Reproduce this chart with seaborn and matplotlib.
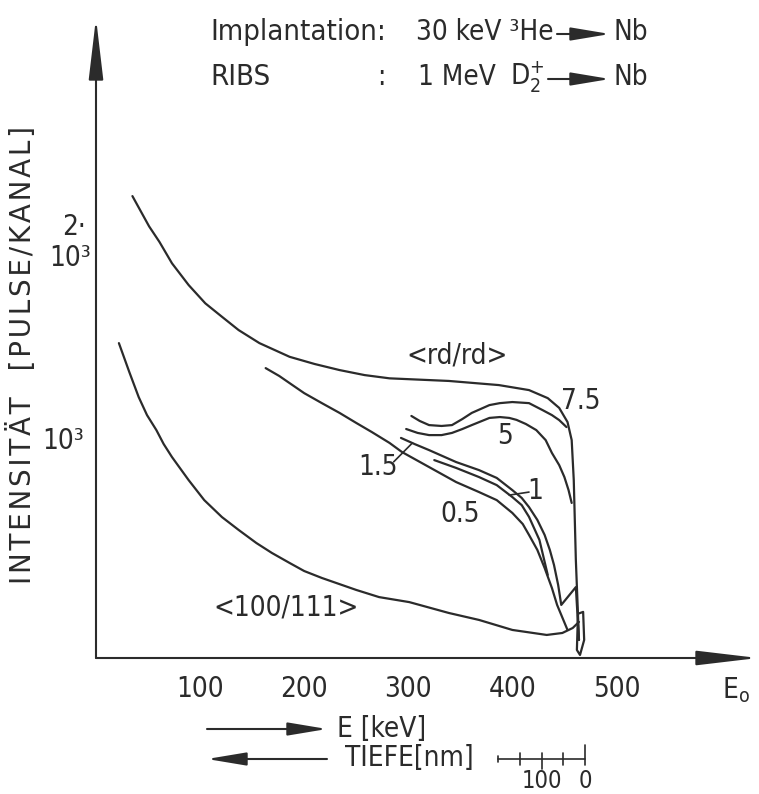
import matplotlib
matplotlib.use("Agg")
import matplotlib.pyplot as plt
import seaborn as sns
from matplotlib.lines import Line2D

W, H = 759, 794
INK = "#2b2b2b"
s = 20

# energy axis [keV] and intensity [pulse/kanal]
e_ticks = [100, 200, 300, 400, 500]
i_ticks = [1000, 2000]

rdrd_e = [35, 51, 61, 73, 89, 105, 120, 137, 157, 186, 210, 234, 258, 282, 339, 387, 416, 434,
          445, 453, 457, 459, 461, 464]
rdrd_i = [2124, 1985, 1913, 1815, 1715, 1631, 1573, 1508, 1448, 1385, 1352, 1324, 1301, 1286,
          1274, 1255, 1232, 1195, 1150, 1085, 1002, 818, 451, 83]

d75_e = [303, 311, 320, 332, 342, 352, 361, 378, 388, 400, 416, 429, 438, 445, 452]
d75_i = [1113, 1090, 1071, 1067, 1071, 1099, 1127, 1163, 1172, 1177, 1172, 1140, 1117, 1094, 1062]

d5_e = [298, 309, 320, 332, 342, 352, 361, 378, 388, 397, 404, 413, 423, 432, 438, 445, 450, 454, 457]
d5_i = [1053, 1035, 1025, 1025, 1035, 1053, 1071, 1104, 1108, 1104, 1095, 1076, 1048, 1002, 943,
        887, 832, 772, 713]

d15_e = [293, 306, 320, 346, 368, 385, 400, 409, 416, 424, 431, 436, 440, 444, 447, 461, 464]
d15_i = [1012, 984, 956, 901, 864, 828, 772, 736, 694, 635, 566, 497, 428, 336, 244, 326, 83]

d1_e = [325, 346, 368, 385, 400, 409, 416, 426, 434]
d1_i = [910, 874, 832, 795, 740, 703, 649, 543, 382]

d05_e = [163, 176, 186, 200, 217, 234, 250, 265, 282, 294, 320, 346, 368, 385, 400, 410, 416, 424,
         431, 438, 443, 453]
d05_i = [1333, 1297, 1264, 1218, 1172, 1127, 1081, 1039, 989, 947, 878, 809, 763, 726, 667, 616,
         566, 497, 414, 322, 244, 129]

al_e = [22, 32, 41, 49, 58, 65, 73, 89, 104, 121, 137, 154, 169, 186, 200, 217, 250, 272, 301,
        339, 368, 400, 433, 448, 458, 464]
al_i = [1448, 1315, 1200, 1117, 1048, 984, 924, 818, 726, 648, 589, 529, 483, 437, 400, 368, 313,
        280, 257, 207, 175, 129, 106, 115, 138, 166]

tail_e = [463, 462, 465, 469, 468, 464]
tail_i = [198, 37, 14, 83, 212, 205]

depth_ticks = [0, 50, 100, 150]
depth_end = 200

sns.set_style("white")
plt.rcParams['font.family'] = ['DejaVu Sans']
plt.rcParams['font.stretch'] = 'condensed'
plt.rcParams['mathtext.fontset'] = 'dejavusans'
plt.rcParams['text.color'] = INK


def px(x, y):
    # pixel position in the 759x794 picture -> figure fraction
    return x / W, 1 - y / H


fig = plt.figure(figsize=(W / 100, H / 100), dpi=100)
ax = fig.add_axes([96 / W, 136 / H, (758 - 96) / W, (658 - 18) / H])

for e, i in [(rdrd_e, rdrd_i), (d75_e, d75_i), (d5_e, d5_i), (d15_e, d15_i),
             (d1_e, d1_i), (d05_e, d05_i), (al_e, al_i), (tail_e, tail_i)]:
    sns.lineplot(x=e, y=i, ax=ax, color=INK, lw=1.6, sort=False, estimator=None)

ax.set_xlim(0, 636)
ax.set_ylim(0, 2943)
for sp in ax.spines.values():
    sp.set_visible(False)
ax.set_xticks(e_ticks)
ax.set_xticklabels([str(t) for t in e_ticks])
ax.tick_params(axis='x', direction='in', length=8, width=1.3, color=INK,
               labelsize=s, pad=12, labelcolor=INK)
ax.set_yticks(i_ticks)
ax.set_yticklabels([])
ax.tick_params(axis='y', direction='out', length=7, width=1.3, color=INK)
ax.set_xlabel("")
ax.set_ylabel("")

# axes drawn as arrows
axis_arrow = dict(arrowstyle="-|>,head_length=3.8,head_width=0.45", mutation_scale=10,
                  lw=1.5, color=INK, shrinkA=0, shrinkB=0)
ax.annotate("", xy=(0, 1), xytext=(0, 0), xycoords='axes fraction', arrowprops=axis_arrow,
            annotation_clip=False)
ax.annotate("", xy=(1, 0), xytext=(0, 0), xycoords='axes fraction', arrowprops=axis_arrow,
            annotation_clip=False)

# curve labels
ax.text(347, 1393, "<rd/rd>", fontsize=s, ha='center', va='center')
ax.text(183, 234, "<100/111>", fontsize=s, ha='center', va='center')
ax.text(466, 1182, "7.5", fontsize=s, ha='center', va='center')
ax.text(393, 1021, "5", fontsize=s, ha='center', va='center')
ax.text(271, 878, "1.5", fontsize=s, ha='center', va='center')
ax.text(350, 662, "0.5", fontsize=s, ha='center', va='center')
ax.text(422, 768, "1", fontsize=s, ha='center', va='center')
ax.plot([286, 304], [902, 989], color=INK, lw=1.2)
ax.plot([397, 416], [749, 763], color=INK, lw=1.2)

# y tick labels
fig.text(*px(84, 441), "10³", fontsize=s, ha='right', va='center')
fig.text(*px(86, 227), "2·", fontsize=s, ha='right', va='center')
fig.text(*px(91, 258), "10³", fontsize=s, ha='right', va='center')
hair = "\u200a"
fig.text(*px(22, 355), hair.join("INTENSITÄT  [PULSE/KANAL]"), fontsize=20, rotation=90,
         ha='center', va='center', fontstretch='normal')
fig.text(*px(722, 690), r"E$_\mathregular{o}$", fontsize=s, ha='left', va='center')

# header
small_arrow = dict(arrowstyle="-|>,head_length=2.4,head_width=0.4", mutation_scale=10,
                   lw=1.5, color=INK, shrinkA=0, shrinkB=0)
fig.text(*px(210, 32), "Implantation:", fontsize=21, ha='left', va='center')
fig.text(*px(416, 32), "30 keV ³He", fontsize=s, ha='left', va='center')
ax.annotate("", xy=px(610, 34), xytext=px(557, 34), xycoords='figure fraction',
            arrowprops=small_arrow)
fig.text(*px(613, 32), "Nb", fontsize=s, ha='left', va='center')
fig.text(*px(210, 77), "RIBS", fontsize=21, ha='left', va='center')
fig.text(*px(381, 77), ":", fontsize=s, ha='center', va='center')
fig.text(*px(418, 77), "1 MeV", fontsize=s, ha='left', va='center')
fig.text(*px(510, 77), r"D$_\mathregular{2}^\mathregular{+}$", fontsize=s, ha='left', va='center')
ax.annotate("", xy=px(610, 79), xytext=px(548, 79), xycoords='figure fraction',
            arrowprops=small_arrow)
fig.text(*px(613, 77), "Nb", fontsize=s, ha='left', va='center')

# energy / depth direction arrows
ax.annotate("", xy=px(327, 729), xytext=px(207, 729), xycoords='figure fraction',
            arrowprops=small_arrow)
fig.text(*px(337, 729), "E [keV]", fontsize=s, ha='left', va='center')
ax.annotate("", xy=px(207, 759), xytext=px(327, 759), xycoords='figure fraction',
            arrowprops=small_arrow)
fig.text(*px(345, 758), "TIEFE[nm]", fontsize=s, ha='left', va='center')


# depth scale bar (0 nm at x=585 px, 0.435 px per nm)
def bar_x(d):
    return 585 - d * 0.435


fig.add_artist(Line2D([bar_x(0) / W, bar_x(depth_end) / W], [1 - 759 / H] * 2,
                      transform=fig.transFigure, color=INK, lw=1.2))
for d in depth_ticks + [depth_end]:
    top, bot = (745, 765) if d == 0 else (753, 765)
    if d == 100:
        bot = 769
    if d == depth_end:
        top, bot = 756, 762
    fig.add_artist(Line2D([bar_x(d) / W] * 2, [1 - top / H, 1 - bot / H],
                          transform=fig.transFigure, color=INK, lw=1.2))
fig.text(*px(bar_x(100), 781), "100", fontsize=17, ha='center', va='center')
fig.text(*px(bar_x(0), 781), "0", fontsize=17, ha='center', va='center')

fig.savefig("out.png", dpi=100, facecolor='white')
